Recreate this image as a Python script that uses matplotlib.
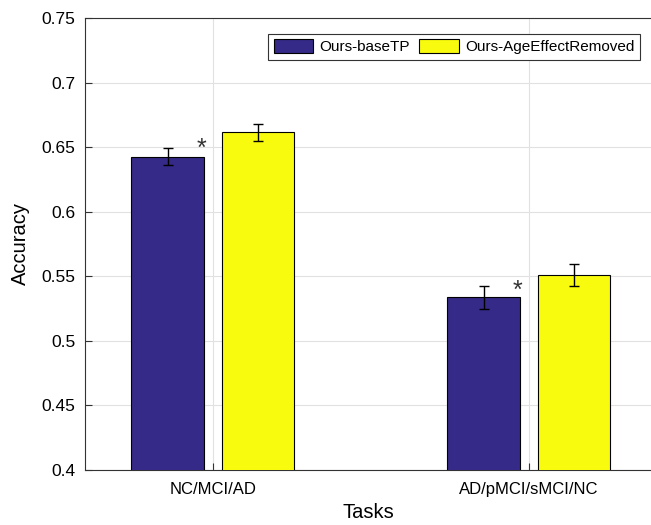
import numpy as np
import matplotlib.pyplot as plt

plt.rcParams['font.family'] = ['Liberation Sans', 'DejaVu Sans']

# Data
tasks = ["NC/MCI/AD", "AD/pMCI/sMCI/NC"]
series_names = ["Ours-baseTP", "Ours-AgeEffectRemoved"]
base_acc = [0.6426, 0.5337]
base_err = [0.0065, 0.0090]
age_acc = [0.6615, 0.5510]
age_err = [0.0066, 0.0086]
star_y = [0.649, 0.539]

colors = ["#352a87", "#f9fb0e"]

fig = plt.figure(figsize=(6.51, 5.25), dpi=100)
ax = fig.add_axes([0.1306, 0.1048, 0.871, 0.861])

x = np.arange(1, len(tasks) + 1)
w = 0.23
off = 0.143
ax.bar(x - off, base_acc, w, color=colors[0], edgecolor="black", linewidth=0.8,
       label=series_names[0], zorder=3)
ax.bar(x + off, age_acc, w, color=colors[1], edgecolor="black", linewidth=0.8,
       label=series_names[1], zorder=3)
ax.errorbar(x - off, base_acc, yerr=base_err, fmt="none", ecolor="black",
            elinewidth=1, capsize=3.5, capthick=1, zorder=4)
ax.errorbar(x + off, age_acc, yerr=age_err, fmt="none", ecolor="black",
            elinewidth=1, capsize=3.5, capthick=1, zorder=4)

# significance markers
for xi, yi in zip(x, star_y):
    ax.text(xi - 0.037, yi, "*", fontsize=18, color="#333333",
            ha="center", va="center", zorder=5)

ax.set_xlim(0.596, 2.39)
ax.set_ylim(0.4, 0.75)
ax.set_xticks(x)
ax.set_xticklabels(tasks, fontsize=12)
ax.set_yticks([0.4, 0.45, 0.5, 0.55, 0.6, 0.65, 0.7, 0.75])
ax.set_yticklabels(["0.4", "0.45", "0.5", "0.55", "0.6", "0.65", "0.7", "0.75"], fontsize=12.5)
ax.tick_params(direction="in", length=5, width=0.8, color="#333333")
ax.tick_params(axis="x", pad=9)
ax.tick_params(axis="y", pad=7)
ax.grid(True, color="#e1e1e1", linewidth=0.8, zorder=0)
ax.set_axisbelow(True)
for sp in ax.spines.values():
    sp.set_color("#333333")
    sp.set_linewidth(0.8)

ax.set_xlabel("Tasks", fontsize=14.5, labelpad=4)
ax.set_ylabel("Accuracy", fontsize=14.5, labelpad=8)

leg = ax.legend(loc="upper right", bbox_to_anchor=(0.978, 0.965), ncol=2,
                fontsize=11, fancybox=False, framealpha=1, edgecolor="#333333",
                handlelength=2.6, handleheight=1.0, handletextpad=0.4,
                columnspacing=0.6, borderpad=0.35, borderaxespad=0)
leg.get_frame().set_linewidth(0.8)

fig.savefig("out.png", dpi=100)
